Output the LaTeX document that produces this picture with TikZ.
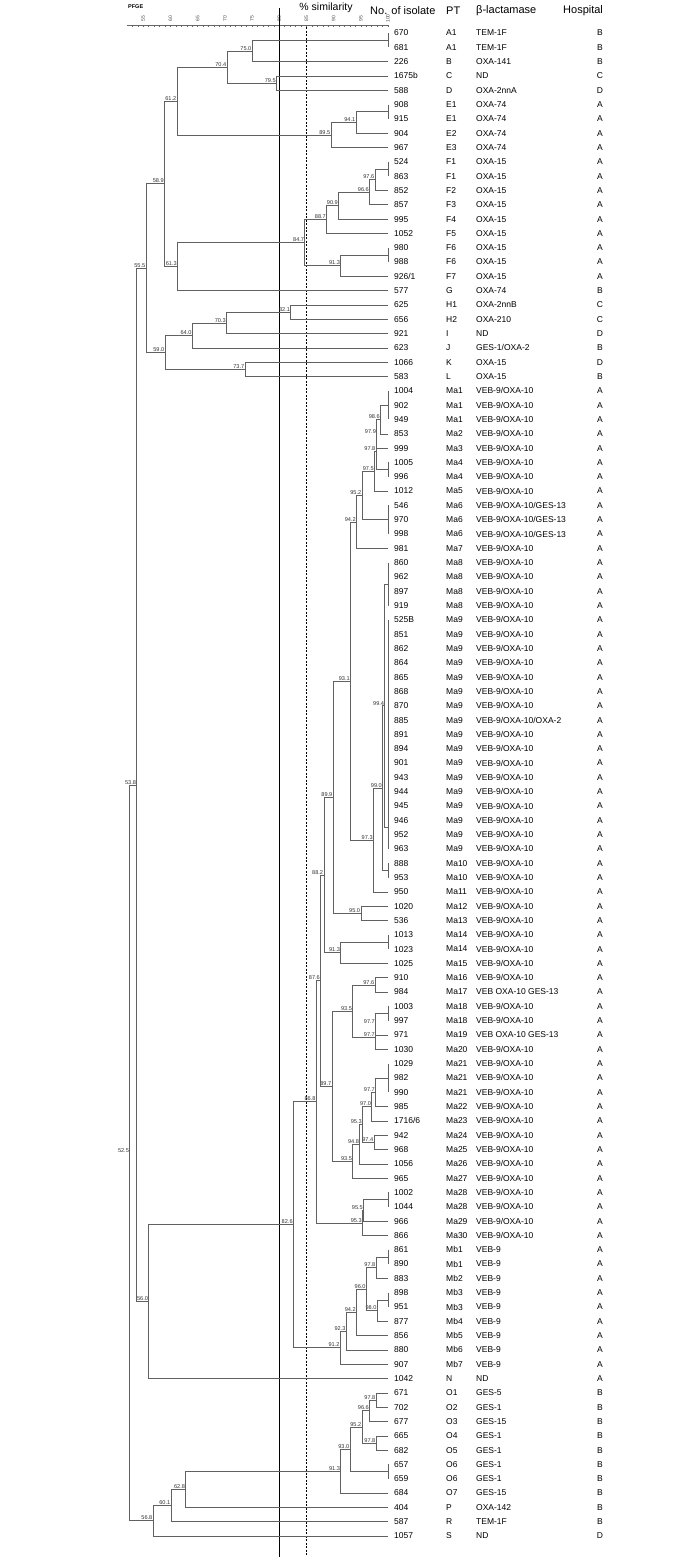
\documentclass[tikz,border=0pt]{standalone}
\usepackage{fontspec}
\setmainfont{Liberation Sans}
% similarity (%) -> x, row number -> y
\newcommand{\sx}[1]{{388-5.44*(100-#1)}}
\newcommand{\ry}[1]{{33+(#1-1)*14.314}}

\begin{document}
\begin{tikzpicture}[x=1pt,y=-1pt,
  branch/.style={draw=black!62, line width=0.55pt},
  simlbl/.style={anchor=south east, inner sep=0.5pt, font=\fontsize{5.6}{6}\selectfont, text=black!80},
  ticklbl/.style={rotate=90, inner sep=0pt, font=\fontsize{5}{5}\selectfont, text=black!70},
  rowtxt/.style={inner sep=0pt, font=\fontsize{8.5}{9}\selectfont},
  hdr/.style={inner sep=0pt, font=\fontsize{11}{12}\selectfont}]
\useasboundingbox (0,0) rectangle (693,1561);

% header
\node[inner sep=0pt, anchor=west, font=\fontsize{5.5}{6}\selectfont\bfseries] (pfge) at (128,7) {PFGE};
\node[hdr, font=\fontsize{10.5}{12}\selectfont] (simhdr) at (326,8) {\% similarity};
\node[hdr, anchor=west] (hdrno) at (370,11) {No. of isolate};
\node[hdr, anchor=west] (hdrpt) at (446,11) {PT};
\node[hdr, anchor=west] (hdrbl) at (476,11) {β-lactamase};
\node[hdr, anchor=west] (hdrho) at (563,11) {Hospital};

% scale
\draw[black!60, line width=0.4pt] (127,25) -- (388,25);
\foreach \sv in {53,...,100}
  \draw[black!60, line width=0.4pt] (\sx{\sv},25) -- (\sx{\sv},26.6);
\foreach \sv in {55,60,...,100}
  \node[ticklbl] (tk\sv) at (\sx{\sv},18.5) {\sv};

% cut-off lines
\draw[black, line width=0.8pt] (\sx{80},8) -- (\sx{80},1557);
\draw[black, line width=0.5pt, dash pattern=on 2pt off 1.5pt] (\sx{85},27) -- (\sx{85},1555);

% isolates
\foreach \iso/\ptype/\blac/\hosp [count=\i] in {
  670/A1/TEM-1F/B, 681/A1/TEM-1F/B, 226/B/OXA-141/B, 1675b/C/ND/C, 588/D/OXA-2nnA/D,
  908/E1/OXA-74/A, 915/E1/OXA-74/A, 904/E2/OXA-74/A, 967/E3/OXA-74/A,
  524/F1/OXA-15/A, 863/F1/OXA-15/A, 852/F2/OXA-15/A, 857/F3/OXA-15/A, 995/F4/OXA-15/A,
  1052/F5/OXA-15/A, 980/F6/OXA-15/A, 988/F6/OXA-15/A, {926/1}/F7/OXA-15/A, 577/G/OXA-74/B,
  625/H1/OXA-2nnB/C, 656/H2/OXA-210/C, 921/I/ND/D, 623/J/{GES-1/OXA-2}/B, 1066/K/OXA-15/D,
  583/L/OXA-15/B,
  1004/Ma1/{VEB-9/OXA-10}/A, 902/Ma1/{VEB-9/OXA-10}/A, 949/Ma1/{VEB-9/OXA-10}/A,
  853/Ma2/{VEB-9/OXA-10}/A, 999/Ma3/{VEB-9/OXA-10}/A, 1005/Ma4/{VEB-9/OXA-10}/A,
  996/Ma4/{VEB-9/OXA-10}/A, 1012/Ma5/{VEB-9/OXA-10}/A, 546/Ma6/{VEB-9/OXA-10/GES-13}/A,
  970/Ma6/{VEB-9/OXA-10/GES-13}/A, 998/Ma6/{VEB-9/OXA-10/GES-13}/A, 981/Ma7/{VEB-9/OXA-10}/A,
  860/Ma8/{VEB-9/OXA-10}/A, 962/Ma8/{VEB-9/OXA-10}/A, 897/Ma8/{VEB-9/OXA-10}/A,
  919/Ma8/{VEB-9/OXA-10}/A, 525B/Ma9/{VEB-9/OXA-10}/A, 851/Ma9/{VEB-9/OXA-10}/A,
  862/Ma9/{VEB-9/OXA-10}/A, 864/Ma9/{VEB-9/OXA-10}/A, 865/Ma9/{VEB-9/OXA-10}/A,
  868/Ma9/{VEB-9/OXA-10}/A, 870/Ma9/{VEB-9/OXA-10}/A, 885/Ma9/{VEB-9/OXA-10/OXA-2}/A,
  891/Ma9/{VEB-9/OXA-10}/A, 894/Ma9/{VEB-9/OXA-10}/A, 901/Ma9/{VEB-9/OXA-10}/A,
  943/Ma9/{VEB-9/OXA-10}/A, 944/Ma9/{VEB-9/OXA-10}/A, 945/Ma9/{VEB-9/OXA-10}/A,
  946/Ma9/{VEB-9/OXA-10}/A, 952/Ma9/{VEB-9/OXA-10}/A, 963/Ma9/{VEB-9/OXA-10}/A,
  888/Ma10/{VEB-9/OXA-10}/A, 953/Ma10/{VEB-9/OXA-10}/A, 950/Ma11/{VEB-9/OXA-10}/A,
  1020/Ma12/{VEB-9/OXA-10}/A, 536/Ma13/{VEB-9/OXA-10}/A, 1013/Ma14/{VEB-9/OXA-10}/A,
  1023/Ma14/{VEB-9/OXA-10}/A, 1025/Ma15/{VEB-9/OXA-10}/A, 910/Ma16/{VEB-9/OXA-10}/A,
  984/Ma17/VEB OXA-10 GES-13/A, 1003/Ma18/{VEB-9/OXA-10}/A, 997/Ma18/{VEB-9/OXA-10}/A,
  971/Ma19/VEB OXA-10 GES-13/A, 1030/Ma20/{VEB-9/OXA-10}/A, 1029/Ma21/{VEB-9/OXA-10}/A,
  982/Ma21/{VEB-9/OXA-10}/A, 990/Ma21/{VEB-9/OXA-10}/A, 985/Ma22/{VEB-9/OXA-10}/A,
  {1716/6}/Ma23/{VEB-9/OXA-10}/A, 942/Ma24/{VEB-9/OXA-10}/A, 968/Ma25/{VEB-9/OXA-10}/A,
  1056/Ma26/{VEB-9/OXA-10}/A, 965/Ma27/{VEB-9/OXA-10}/A, 1002/Ma28/{VEB-9/OXA-10}/A,
  1044/Ma28/{VEB-9/OXA-10}/A, 966/Ma29/{VEB-9/OXA-10}/A, 866/Ma30/{VEB-9/OXA-10}/A,
  861/Mb1/VEB-9/A, 890/Mb1/VEB-9/A, 883/Mb2/VEB-9/A, 898/Mb3/VEB-9/A, 951/Mb3/VEB-9/A,
  877/Mb4/VEB-9/A, 856/Mb5/VEB-9/A, 880/Mb6/VEB-9/A, 907/Mb7/VEB-9/A, 1042/N/ND/A,
  671/O1/GES-5/B, 702/O2/GES-1/B, 677/O3/GES-15/B, 665/O4/GES-1/B, 682/O5/GES-1/B,
  657/O6/GES-1/B, 659/O6/GES-1/B, 684/O7/GES-15/B, 404/P/OXA-142/B, 587/R/TEM-1F/B,
  1057/S/ND/D} {
  \coordinate (r\i) at (388,\ry{\i});
  \node[rowtxt, anchor=west] (no\i) at (394,\ry{\i}) {\iso};
  \node[rowtxt, anchor=west] (pt\i) at (446,\ry{\i}) {\ptype};
  \node[rowtxt, anchor=west] (bl\i) at (476,\ry{\i}) {\blac};
  \node[rowtxt] (ho\i) at (600,\ry{\i}) {\hosp};
}

% groups of identical profiles
\foreach \gname/\ga/\gb/\gm in {g1/1/2/1.5, gE/6/7/6.5, gF/10/11/10.5, gF6/16/17/16.5,
  gMa1/26/28/27, gMa4/31/32/31.5, gMa6/34/36/35, gMa8/38/41/39.5, gMa9/42/58/56.5,
  gMa10/59/60/59.5, gMa14/64/65/64.5, gMa18/69/70/69.5, gMa21/73/75/74, gMa28/82/83/82.5,
  gMb1/86/87/86.5, gMb3/89/90/89.5, gO6/101/102/101.5} {
  \coordinate (\gname) at (388,\ry{\gm});
  \draw[branch] (r\ga) -- (r\gb);
}

% tree nodes: name/similarity/row
\foreach \nm/\sv/\rw in {n750/75.0/2.25, n795/79.5/4.5, n704/70.4/3.375, n941/94.1/7.25,
  n895/89.5/8.125, n612/61.2/5.75, n976/97.6/11.25, n966/96.6/12.125, n909/90.9/13.06,
  n887/88.7/14.03, n913/91.3/17.25, n847/84.7/15.64, n613/61.3/17.32, n589/58.9/11.53,
  n821/82.1/20.5, n703/70.3/21.25, n640/64.0/22.125, n737/73.7/24.5, n590/59.0/23.31,
  n555/55.5/17.42, n986/98.6/28, n979/97.9/29, n978/97.8/30.25, n975/97.5/31.625,
  n952/95.2/33.31, n942/94.2/35.16, n994/99.4/48, n990/99.0/53.75, n973/97.3/57.375,
  n931/93.1/46.27, n950/95.0/62.5, n899/89.9/54.39, n913b/91.3/65.25, n882/88.2/59.82,
  n976b/97.6/67.5, n977a/97.7/70.25, n977b/97.7/71.125, n935/93.5/69.31, n977c/97.7/75,
  n970/97.0/76, n974/97.4/78.5, n953/95.3/77.25, n948/94.8/78.625, n935b/93.5/79.81,
  n897/89.7/74.56, n876/87.6/67.19, n955/95.5/83.25, n953b/95.3/84.125, n868/86.8/75.66,
  n978b/97.8/87.25, n980/98.0/90.25, n960/96.0/88.75, n942b/94.2/90.375, n923/92.3/91.69,
  n912/91.2/92.84, n826/82.6/84.25, n560/56.0/89.63, n978c/97.8/96.5, n966b/96.6/97.25,
  n978d/97.8/99.5, n952b/95.2/98.375, n930/93.0/99.94, n913c/91.3/101.47, n628/62.8/102.73,
  n601/60.1/103.87, n568/56.8/104.93, n538/53.8/53.53, n525/52.5/79.23} {
  \coordinate (\nm) at (\sx{\sv},\ry{\rw});
  \node[simlbl] (l\nm) at (\nm) {\sv};
}

% branches
\foreach \pa/\ch in {n750/g1, n750/r3, n795/r4, n795/r5, n704/n750, n704/n795,
  n941/gE, n941/r8, n895/n941, n895/r9, n612/n704, n612/n895,
  n976/gF, n976/r12, n966/n976, n966/r13, n909/n966, n909/r14, n887/n909, n887/r15,
  n913/gF6, n913/r18, n847/n887, n847/n913, n613/n847, n613/r19, n589/n612, n589/n613,
  n821/r20, n821/r21, n703/n821, n703/r22, n640/n703, n640/r23, n737/r24, n737/r25,
  n590/n640, n590/n737, n555/n589, n555/n590,
  n986/gMa1, n986/r29, n979/n986, n979/r30, n978/n979, n978/gMa4, n975/n978, n975/r33,
  n952/n975, n952/gMa6, n942/n952, n942/r37, n994/gMa8, n994/gMa9, n990/n994, n990/gMa10,
  n973/n990, n973/r61, n931/n942, n931/n973, n950/r62, n950/r63, n899/n931, n899/n950,
  n913b/gMa14, n913b/r66, n882/n899, n882/n913b, n976b/r67, n976b/r68,
  n977a/gMa18, n977a/r71, n977b/n977a, n977b/r72, n935/n976b, n935/n977b,
  n977c/gMa21, n977c/r76, n970/n977c, n970/r77, n974/r78, n974/r79, n953/n970, n953/n974,
  n948/n953, n948/r80, n935b/n948, n935b/r81, n897/n935, n897/n935b, n876/n882, n876/n897,
  n955/gMa28, n955/r84, n953b/n955, n953b/r85, n868/n876, n868/n953b,
  n978b/gMb1, n978b/r88, n980/gMb3, n980/r91, n960/n978b, n960/n980, n942b/n960, n942b/r92,
  n923/n942b, n923/r93, n912/n923, n912/r94, n826/n868, n826/n912, n560/n826, n560/r95,
  n978c/r96, n978c/r97, n966b/n978c, n966b/r98, n978d/r99, n978d/r100, n952b/n966b,
  n952b/n978d, n930/n952b, n930/gO6, n913c/n930, n913c/r103, n628/n913c, n628/r104,
  n601/n628, n601/r105, n568/n601, n568/r106, n538/n555, n538/n560, n525/n538, n525/n568}
  \draw[branch] (\pa) |- (\ch);
\end{tikzpicture}
\end{document}
